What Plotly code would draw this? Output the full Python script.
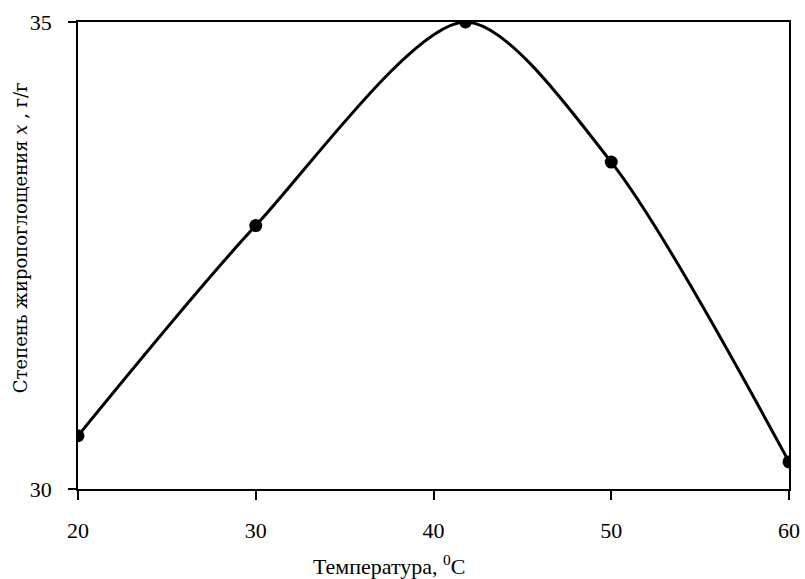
import plotly.graph_objects as go

temperature = [20, 30, 41.8, 50, 60]
absorption = [30.57, 32.82, 35.0, 33.5, 30.29]
x_ticks = [20, 30, 40, 50, 60]
y_ticks = [30, 35]
x_title = "Температура, <sup>0</sup>C"
y_title = "Степень жиропоглощения <i>x</i> , г/г"

fig = go.Figure()
fig.add_trace(go.Scatter(
    x=temperature, y=absorption,
    mode="lines+markers",
    line=dict(color="black", width=3, shape="spline", smoothing=0.8),
    marker=dict(color="black", size=13),
    showlegend=False,
))

serif = "Liberation Serif"
fig.update_layout(
    width=805, height=579,
    margin=dict(l=78, r=16, t=22, b=90, autoexpand=False),
    paper_bgcolor="white", plot_bgcolor="white",
    font=dict(family=serif, color="black"),
    xaxis=dict(
        range=[20, 60], tickvals=x_ticks, ticktext=[str(v) for v in x_ticks],
        showline=True, linecolor="black", linewidth=1.5, mirror=True,
        ticks="outside", ticklen=9, tickwidth=1.5, tickcolor="black",
        ticklabelstandoff=12,
        showgrid=False, zeroline=False, automargin=False,
        tickfont=dict(size=22, family=serif),
    ),
    yaxis=dict(
        range=[30, 35], tickvals=y_ticks, ticktext=[str(v) for v in y_ticks],
        showline=True, linecolor="black", linewidth=1.5, mirror=True,
        ticks="outside", ticklen=8, tickwidth=1.5, tickcolor="black",
        ticklabelstandoff=12,
        showgrid=False, zeroline=False, automargin=False,
        tickfont=dict(size=22, family=serif),
    ),
    annotations=[
        dict(text=x_title, xref="x", yref="paper", x=37.5, y=0, yshift=-76,
             xanchor="center", yanchor="middle", showarrow=False,
             font=dict(size=22, family=serif)),
        dict(text=y_title, xref="paper", yref="paper", x=0, xshift=-58,
             y=0.537, xanchor="center", yanchor="middle", textangle=-90,
             showarrow=False, font=dict(size=18, family="DejaVu Serif")),
    ],
)

fig.write_html("out.html")
